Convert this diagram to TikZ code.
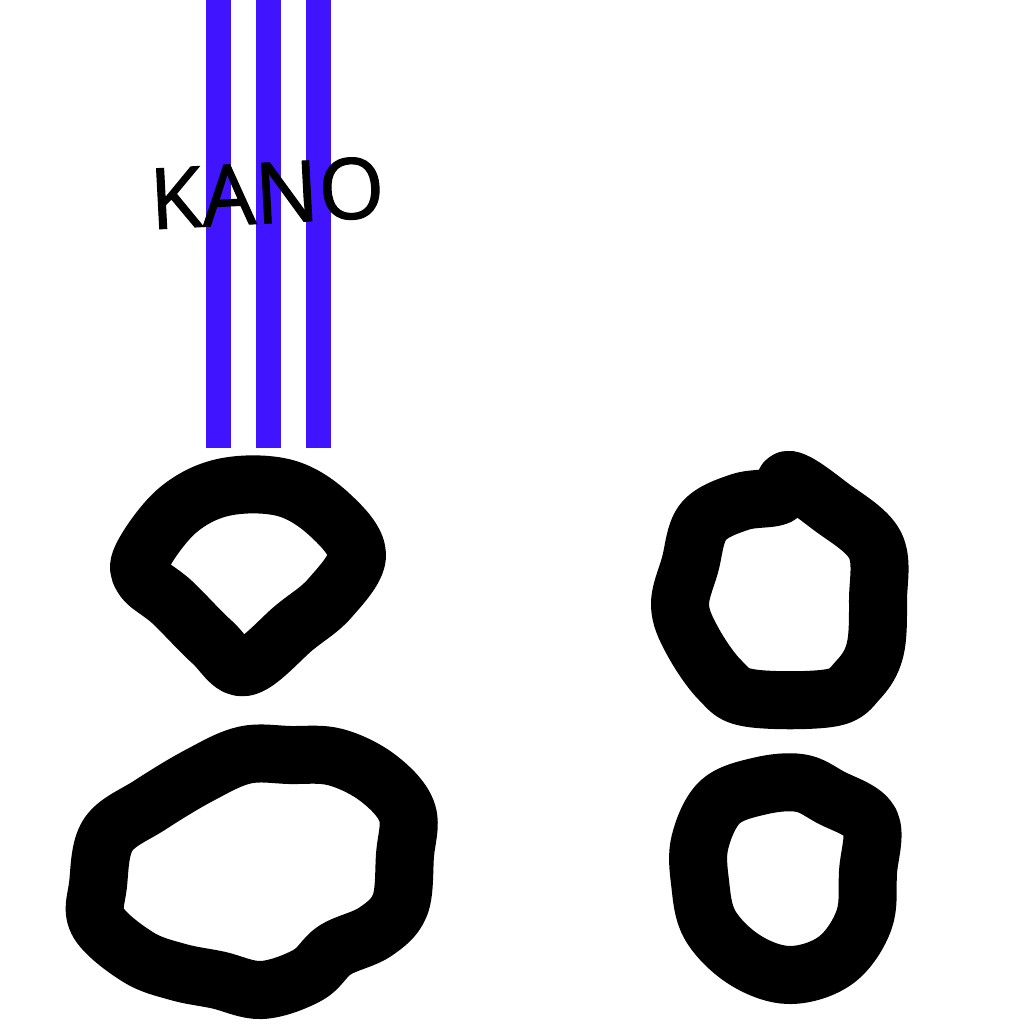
\documentclass[tikz,border=0pt]{standalone}
\usepackage{fontspec}
\setmainfont{Open Sans}
\newfontfamily\kanofont{Open Sans}[FakeBold=1.3]
\definecolor{stripe}{RGB}{64,20,255}
\begin{document}
\begin{tikzpicture}[x=0.01cm,y=-0.01cm,
  loop/.style={draw=black,line width=16.5pt,line join=round,line cap=round},
  stripebar/.style={fill=stripe}]
\useasboundingbox (0,0) rectangle (1024,1024);
\fill[white] (0,0) rectangle (1024,1024);
% stripes
\fill[stripebar] (206,0) rectangle (231,448);
\fill[stripebar] (256,0) rectangle (281,448);
\fill[stripebar] (306,0) rectangle (331,448);
% text
\node[inner sep=0pt,rotate=3,font=\kanofont\fontsize{24}{24}\selectfont] (kano) at (267,193) {KANO};
% loop 1
\draw[loop] plot[smooth cycle,tension=0.6] coordinates {(143,555) (178,510) (225,487) (285,488) (330,515) (357,555) (330,598) (295,627) (245,667) (212,642) (172,602) (143,578)};
% loop 2
\draw[loop] plot[smooth cycle,tension=0.6] coordinates {(98,885) (108,835) (150,805) (200,775) (245,755) (290,755) (335,757) (378,778) (407,812) (405,855) (400,905) (375,932) (335,950) (308,975) (262,990) (218,980) (178,972) (138,957) (98,922)};
% loop 3
\draw[loop] plot[smooth cycle,tension=0.6] coordinates {(690,565) (703,522) (740,502) (778,496) (790,480) (830,506) (875,545) (878,600) (875,650) (858,680) (830,698) (750,698) (720,680) (692,640) (680,605)};
% loop 4
\draw[loop] plot[smooth cycle,tension=0.6] coordinates {(700,842) (720,802) (760,786) (800,783) (830,797) (870,822) (868,872) (864,920) (836,960) (790,975) (745,960) (710,925) (700,882)};
\end{tikzpicture}
\end{document}
